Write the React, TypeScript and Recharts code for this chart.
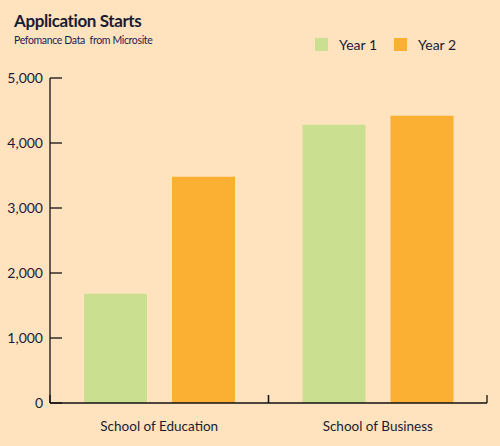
// Application Starts — grouped bars (Year 1 / Year 2) per school, peach background.
import { Bar, BarChart, Legend, XAxis, YAxis } from 'recharts'

const SCHOOLS = ['School of Education', 'School of Business']
const YEAR1 = [1680, 4280]
const YEAR2 = [3480, 4420]
const Y_TICKS = [0, 1000, 2000, 3000, 4000, 5000]

const BG = '#fee3be'
const GREEN = '#cadf90'
const ORANGE = '#fbb034'
const INK = '#1b1b33'
const FONT = 'Lato, "Open Sans", sans-serif'

const data = SCHOOLS.map((school, i) => ({ school, y1: YEAR1[i], y2: YEAR2[i] }))

// Y tick: short tick pointing into the plot + number on the left
function YTick(props: any) {
  const { x = 0, y = 0, payload } = props
  return (
    <g>
      <line x1={x} x2={x + 12} y1={y} y2={y} stroke="#111" strokeWidth={1.3} />
      <text x={x - 7} y={y + 5} textAnchor="end" fontSize={14} fill={INK} fontFamily={FONT}>
        {payload.value.toLocaleString('en-US')}
      </text>
    </g>
  )
}

// X tick: ticks at band edges pointing up, label centered under the band
function XTick(props: any) {
  const { x = 0, y = 0, payload } = props
  const half = payload?.offset ?? 0
  return (
    <g>
      <line x1={x - half} x2={x - half} y1={y - 8} y2={y} stroke="#111" strokeWidth={1.3} />
      <line x1={x + half} x2={x + half} y1={y - 8} y2={y} stroke="#111" strokeWidth={1.3} />
      <text x={x} y={y + 28} textAnchor="middle" fontSize={13.5} fill={INK} fontFamily={FONT}>
        {payload.value}
      </text>
    </g>
  )
}

function LegendBox({ payload }: any) {
  return (
    <div style={{ display: 'flex', alignItems: 'center', fontFamily: FONT, fontSize: 14, color: INK }}>
      {(payload || []).map((p: any) => (
        <span key={p.value} style={{ display: 'flex', alignItems: 'center', marginRight: 17 }}>
          <span style={{ width: 13, height: 13, background: p.color, marginRight: 11 }} />
          {p.value}
        </span>
      ))}
    </div>
  )
}

export default function App() {
  return (
    <div style={{ position: 'absolute', left: 0, top: 0, width: 500, height: 446, background: BG }}>
      <div style={{ position: 'absolute', left: 14, top: 10, fontFamily: FONT, color: INK }}>
        <div style={{ fontSize: 17, fontWeight: 700, lineHeight: '22px', letterSpacing: -0.4 }}>
          Application Starts
        </div>
        <div
          style={{
            fontSize: 10.5,
            lineHeight: '16px',
            color: '#1c1c52',
            whiteSpace: 'pre',
            letterSpacing: -0.35,
          }}
        >
          {'Pefomance Data  from Microsite'}
        </div>
      </div>
      <BarChart
        width={500}
        height={446}
        data={data}
        margin={{ top: 78, right: 13, bottom: 0, left: 0 }}
        barSize={63}
        barGap={25}
      >
        <XAxis
          dataKey="school"
          height={43}
          axisLine={{ stroke: '#111', strokeWidth: 1.3 }}
          tickLine={false}
          tickSize={0}
          tickMargin={0}
          interval={0}
          tick={(p: any) => <XTick {...p} />}
        />
        <YAxis
          width={50}
          domain={[0, 5000]}
          ticks={Y_TICKS}
          axisLine={{ stroke: '#111', strokeWidth: 1.3 }}
          tickLine={false}
          tickSize={0}
          tickMargin={0}
          tick={(p: any) => <YTick {...p} />}
        />
        <Legend
          content={<LegendBox />}
          wrapperStyle={{
            position: 'absolute',
            top: 36,
            left: 315,
            width: 0,
            height: 0,
            overflow: 'visible',
            whiteSpace: 'nowrap',
          }}
        />
        <Bar dataKey="y1" name="Year 1" fill={GREEN} isAnimationActive={false} />
        <Bar dataKey="y2" name="Year 2" fill={ORANGE} isAnimationActive={false} />
      </BarChart>
    </div>
  )
}
